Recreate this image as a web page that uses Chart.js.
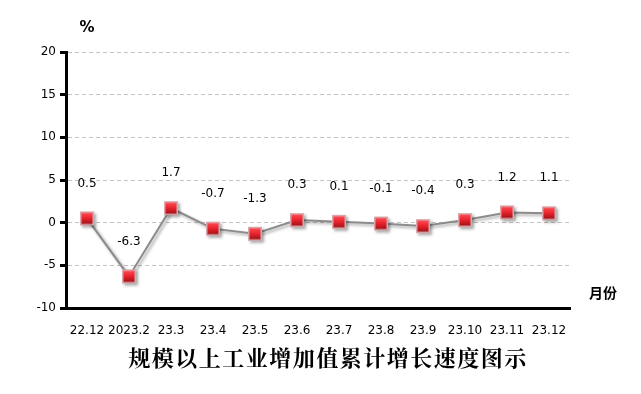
<!DOCTYPE html>
<html>
<head>
<meta charset="utf-8">
<script src="https://cdn.jsdelivr.net/npm/chart.js@4"></script>
<style>
  html, body { margin: 0; padding: 0; background: #fff; }
  #wrap { width: 641px; height: 394px; }
</style>
</head>
<body>
<div id="wrap"><canvas id="grafico"></canvas></div>
<script>
// 数据
const meses = ['22.12', '2023.2', '23.3', '23.4', '23.5', '23.6', '23.7', '23.8', '23.9', '23.10', '23.11', '23.12'];
const crescimento = [0.5, -6.3, 1.7, -0.7, -1.3, 0.3, 0.1, -0.1, -0.4, 0.3, 1.2, 1.1];
const yTicks = [-10, -5, 0, 5, 10, 15, 20];
const tituloTexto = '规模以上工业增加值累计增长速度图示';
const unidadeY = '%';
const unidadeX = '月份';

// marcador quadrado vermelho com gradiente
function criarMarcador() {
  const c = document.createElement('canvas');
  c.width = 16; c.height = 16;
  const g = c.getContext('2d');
  const grad = g.createLinearGradient(0, 2, 0, 14);
  grad.addColorStop(0, '#ff4d55');
  grad.addColorStop(0.5, '#e8222c');
  grad.addColorStop(1, '#9c1018');
  g.fillStyle = '#d9a8ac';
  g.fillRect(1, 1, 14, 14);
  g.fillStyle = grad;
  g.fillRect(2.5, 2.5, 11, 11);
  return c;
}

const sombra = {
  id: 'sombra',
  beforeDatasetDraw(chart) {
    const ctx = chart.ctx;
    ctx.save();
    ctx.shadowColor = 'rgba(0,0,0,0.35)';
    ctx.shadowOffsetX = 2;
    ctx.shadowOffsetY = 2;
    ctx.shadowBlur = 3;
  },
  afterDatasetDraw(chart) {
    chart.ctx.restore();
  }
};

const textos = {
  id: 'textos',
  afterDatasetsDraw(chart) {
    const ctx = chart.ctx;
    const meta = chart.getDatasetMeta(0);
    ctx.save();
    ctx.fillStyle = '#000';
    ctx.textAlign = 'center';
    ctx.textBaseline = 'middle';
    ctx.font = '12px "DejaVu Sans"';
    meta.data.forEach((p, i) => {
      ctx.fillText(crescimento[i].toFixed(1), p.x, p.y - 35);
    });
    ctx.font = 'bold 15px "DejaVu Sans"';
    ctx.fillText(unidadeY, 87, 28);
    ctx.font = 'bold 14px "Noto Sans CJK SC"';
    ctx.fillText(unidadeX, 603, 293);
    ctx.font = 'bold 22px "Noto Serif CJK SC", "Noto Sans CJK SC"';
    ctx.letterSpacing = '1.5px';
    ctx.fillText(tituloTexto, 328, 358);
    ctx.restore();
  }
};

new Chart(document.getElementById('grafico'), {
  type: 'line',
  data: {
    labels: meses,
    datasets: [{
      data: crescimento,
      borderColor: '#8c8c8c',
      borderWidth: 2,
      tension: 0,
      pointStyle: criarMarcador(),
      pointRadius: 8,
    }],
  },
  options: {
    responsive: true,
    maintainAspectRatio: false,
    animation: false,
    layout: { padding: { top: 52, right: 71, left: 0, bottom: 0 } },
    plugins: { legend: { display: false }, tooltip: { enabled: false } },
    scales: {
      x: {
        offset: true,
        grid: { display: false },
        border: { display: true, color: '#000', width: 3 },
        ticks: { color: '#000', font: { family: 'DejaVu Sans', size: 12 }, padding: 8, maxRotation: 0, autoSkip: false },
        afterFit(scale) { scale.height = 86; },
      },
      y: {
        min: -10,
        max: 20,
        afterBuildTicks(scale) { scale.ticks = yTicks.map(v => ({ value: v })); },
        grid: { color: '#c4c4c4', lineWidth: 1, tickColor: '#000', tickWidth: 3, tickLength: 6, tickBorderDash: [] },
        border: { display: true, color: '#000', width: 3, dash: [4, 3] },
        ticks: { color: '#000', font: { family: 'DejaVu Sans', size: 12 }, padding: 4 },
        afterFit(scale) { scale.width = 66; },
      },
    },
  },
  plugins: [sombra, textos],
});
</script>
</body>
</html>
